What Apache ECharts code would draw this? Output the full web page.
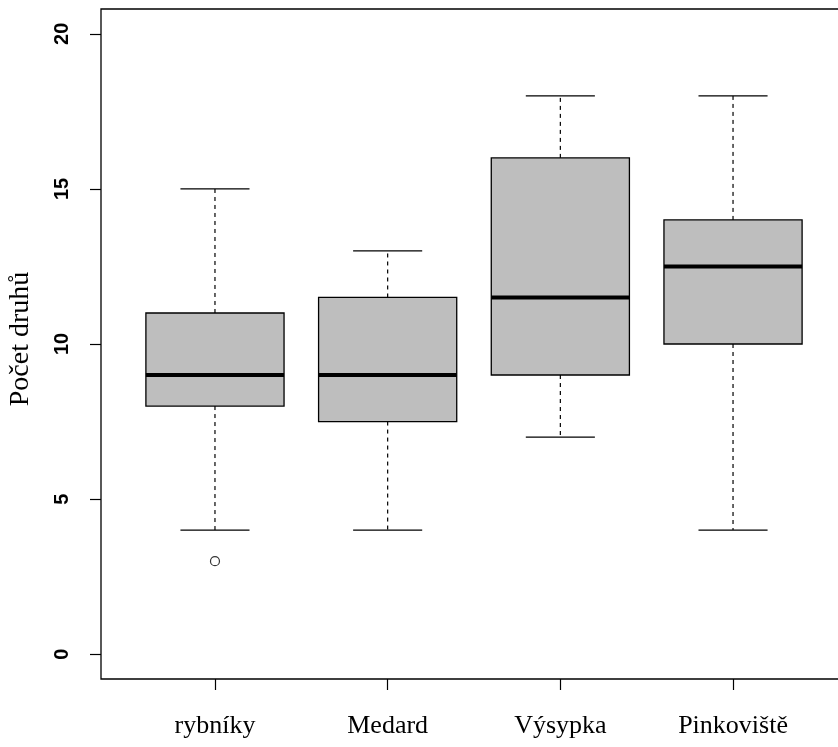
<!DOCTYPE html>
<html>
<head>
<meta charset="utf-8">
<script src="https://cdn.jsdelivr.net/npm/echarts@6/dist/echarts.min.js"></script>
<style>
html,body{margin:0;padding:0;background:#fff;}
#main{width:838px;height:747px;}
</style>
</head>
<body>
<div id="main"></div>
<script>
// Data
var categories = ['rybníky', 'Medard', 'Výsypka', 'Pinkoviště'];
var whiskerLow  = [4, 4, 7, 4];
var q1          = [8, 7.5, 9, 10];
var medians     = [9, 9, 11.5, 12.5];
var q3          = [11, 11.5, 16, 14];
var whiskerHigh = [15, 13, 18, 18];
var outliers    = [[1, 3]];   // [category position, value]
var yTicks = [0, 5, 10, 15, 20];
var yTitle = 'Počet druhů';

var boxData = categories.map(function (c, i) {
  return [i + 1, whiskerLow[i], q1[i], medians[i], q3[i], whiskerHigh[i]];
});

var chart = echarts.init(document.getElementById('main'), null, {renderer: 'canvas'});

function renderBox(params, api) {
  var x = api.value(0);
  var pLow = api.coord([x, api.value(1)]);
  var pQ1 = api.coord([x, api.value(2)]);
  var pMed = api.coord([x, api.value(3)]);
  var pQ3 = api.coord([x, api.value(4)]);
  var pHigh = api.coord([x, api.value(5)]);
  var boxW = api.size([0.8, 0])[0];
  var capW = api.size([0.4, 0])[0];
  var cx = pMed[0];
  var dash = {stroke: '#000', lineWidth: 1.2, lineDash: [4, 4]};
  var solid = {stroke: '#000', lineWidth: 1.3};
  return {
    type: 'group',
    children: [
      {type: 'line', shape: {x1: cx, y1: pQ3[1], x2: cx, y2: pHigh[1]}, style: dash},
      {type: 'line', shape: {x1: cx, y1: pQ1[1], x2: cx, y2: pLow[1]}, style: dash},
      {type: 'line', shape: {x1: cx - capW / 2, y1: pHigh[1], x2: cx + capW / 2, y2: pHigh[1]}, style: solid},
      {type: 'line', shape: {x1: cx - capW / 2, y1: pLow[1], x2: cx + capW / 2, y2: pLow[1]}, style: solid},
      {type: 'rect', shape: {x: cx - boxW / 2, y: pQ3[1], width: boxW, height: pQ1[1] - pQ3[1]},
        style: {fill: '#bebebe', stroke: '#000', lineWidth: 1.3}},
      {type: 'line', shape: {x1: cx - boxW / 2, y1: pMed[1], x2: cx + boxW / 2, y2: pMed[1]},
        style: {stroke: '#000', lineWidth: 4}}
    ]
  };
}

var option = {
  animation: false,
  backgroundColor: '#fff',
  grid: {
    left: 101, top: 9, width: 746, height: 670,
    containLabel: false,
    outerBoundsMode: 'none',
    show: true, borderColor: '#000', borderWidth: 1.3, backgroundColor: 'transparent'
  },
  xAxis: {
    type: 'value',
    min: 0.34, max: 4.66,
    splitLine: {show: false},
    axisLine: {show: false, onZero: false},
    axisTick: {show: true, inside: false, length: 11, lineStyle: {color: '#000', width: 1.2}, customValues: [1, 2, 3, 4]},
    axisLabel: {
      customValues: [1, 2, 3, 4],
      formatter: function (v) { return categories[Math.round(v) - 1] || ''; },
      fontFamily: 'Liberation Serif, Times New Roman, serif',
      fontSize: 26, color: '#000', margin: 34
    }
  },
  yAxis: {
    type: 'value',
    min: -0.8, max: 20.8,
    name: yTitle,
    nameLocation: 'middle',
    nameGap: 66,
    nameTextStyle: {fontFamily: 'Liberation Serif, Times New Roman, serif', fontSize: 28, color: '#000', padding: [0, 0, 0, 10]},
    splitLine: {show: false},
    axisLine: {show: false, onZero: false},
    axisTick: {show: true, inside: false, length: 11, lineStyle: {color: '#000', width: 1.2}, customValues: yTicks},
    axisLabel: {
      customValues: yTicks,
      rotate: 90,
      fontFamily: 'Liberation Sans, Arial, sans-serif',
      fontWeight: 'bold',
      fontSize: 20, color: '#000', margin: 29
    }
  },
  series: [
    {
      type: 'custom',
      renderItem: renderBox,
      data: boxData,
      encode: {x: 0, y: [1, 2, 3, 4, 5]},
      clip: false
    },
    {
      type: 'scatter',
      data: outliers,
      symbol: 'circle',
      symbolSize: 9,
      itemStyle: {color: '#fff', borderColor: '#000', borderWidth: 1.2}
    }
  ]
};
chart.setOption(option);
</script>
</body>
</html>
